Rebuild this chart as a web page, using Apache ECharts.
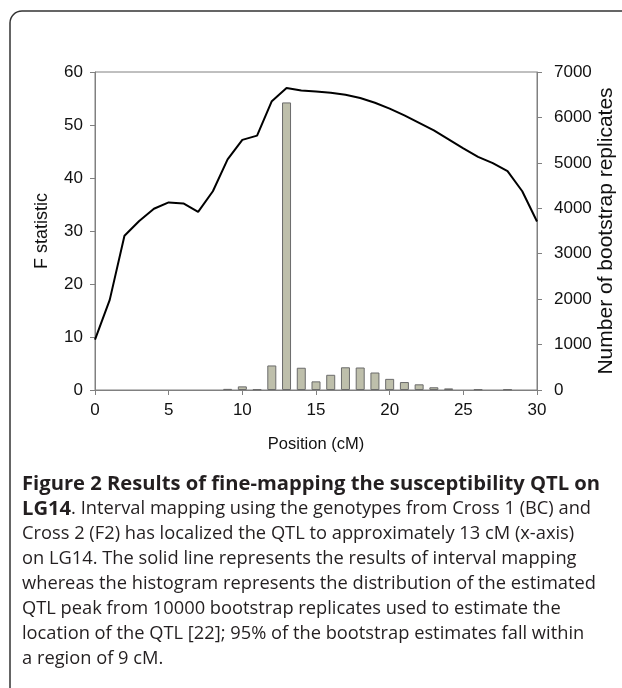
<!DOCTYPE html>
<html><head><meta charset="utf-8">
<script src="https://cdn.jsdelivr.net/npm/echarts@6/dist/echarts.min.js"></script>
<style>html,body{margin:0;padding:0;background:#fff}#c{width:622px;height:688px}</style>
</head><body><div id="c"></div>
<script>
// Position along LG14 (cM)
const positions = [0,1,2,3,4,5,6,7,8,9,10,11,12,13,14,15,16,17,18,19,20,21,22,23,24,25,26,27,28,29,30];
// F statistic from interval mapping (solid line, left axis)
const fStatistic = [9.5,17.0,29.1,31.9,34.2,35.4,35.2,33.6,37.5,43.5,47.2,48.0,54.5,57.0,56.5,56.3,56.1,55.7,55.1,54.2,53.1,51.8,50.4,49.0,47.3,45.6,44.0,42.8,41.3,37.5,31.8];
// Number of bootstrap replicates (histogram, right axis)
const bootstrapCounts = [0,0,0,0,0,0,0,0,0,25,80,15,540,6330,490,190,335,500,495,385,245,175,125,60,35,0,15,0,15,0,0];

const xTicks = [0,5,10,15,20,25,30];
const leftTicks = [0,10,20,30,40,50,60];
const rightTicks = [0,1000,2000,3000,4000,5000,6000,7000];

const xName = 'Position (cM)';
const leftName = 'F statistic';
const rightName = 'Number of bootstrap replicates';

const captionBoldTitle = 'Figure 2 Results of fine-mapping the susceptibility QTL on';
const captionBoldLead = 'LG14';
const captionLines = [
  '. Interval mapping using the genotypes from Cross 1 (BC) and',
  'Cross 2 (F2) has localized the QTL to approximately 13 cM (x-axis)',
  'on LG14. The solid line represents the results of interval mapping',
  'whereas the histogram represents the distribution of the estimated',
  'QTL peak from 10000 bootstrap replicates used to estimate the',
  'location of the QTL [22]; 95% of the bootstrap estimates fall within',
  'a region of 9 cM.'
];

const chart = echarts.init(document.getElementById('c'), null, {renderer:'canvas'});
const axisFont = '"Liberation Sans", Arial, sans-serif';
const capFont = '"Open Sans", "Noto Sans", sans-serif';
const capSize = 18.3, capBoldSize = 20.2;
const capTop = 484, capStep = 25, capLeft = 22;
const capColor = '#231f20';

const graphics = [
  {type:'rect', shape:{x:10,y:11,width:650,height:690,r:12}, style:{fill:'none',stroke:'#333',lineWidth:1.5}, silent:true, z:0},
  {type:'text', x:capLeft, y:capTop, style:{text:captionBoldTitle, font:'bold '+capBoldSize+'px '+capFont, fill:capColor, verticalAlign:'middle'}},
  {type:'text', x:capLeft, y:capTop+capStep, style:{
    text:'{b|'+captionBoldLead+'}{r|'+captionLines[0]+'}',
    verticalAlign:'middle',
    rich:{b:{font:'bold '+capBoldSize+'px '+capFont, fill:capColor}, r:{font:capSize+'px '+capFont, fill:capColor}}
  }}
];
for (let i=1;i<captionLines.length;i++){
  graphics.push({type:'text', x:capLeft, y:capTop+capStep*(i+1), style:{text:captionLines[i], font:capSize+'px '+capFont, fill:capColor, verticalAlign:'middle'}});
}

const axisLineStyle = {color:'#808080', width:1};
const plain = v => String(v);
chart.setOption({
  animation:false,
  backgroundColor:'#fff',
  grid:{left:95, right:85, top:72, bottom:298, show:true, borderColor:'#808080', borderWidth:1, containLabel:false, outerBoundsMode:'none'},
  xAxis:{type:'value', min:xTicks[0], max:xTicks[xTicks.length-1], interval:xTicks[1]-xTicks[0],
    name:xName, nameLocation:'middle', nameGap:46, nameMoveOverlap:false, nameTextStyle:{fontFamily:axisFont,fontSize:16.5,color:'#111'},
    axisLine:{show:true,lineStyle:axisLineStyle}, axisTick:{show:true,inside:false,length:5,lineStyle:axisLineStyle},
    axisLabel:{fontFamily:axisFont,fontSize:17,color:'#111',margin:12,formatter:plain}, splitLine:{show:false}},
  yAxis:[
    {type:'value', position:'left', min:leftTicks[0], max:leftTicks[leftTicks.length-1], interval:leftTicks[1]-leftTicks[0],
      name:leftName, nameLocation:'middle', nameGap:44, nameMoveOverlap:false, nameRotate:90, nameTextStyle:{fontFamily:axisFont,fontSize:18,color:'#111'},
      axisLine:{show:true,lineStyle:axisLineStyle}, axisTick:{show:true,inside:false,length:5,lineStyle:axisLineStyle},
      axisLabel:{fontFamily:axisFont,fontSize:17,color:'#111',margin:12,formatter:plain}, splitLine:{show:false}},
    {type:'value', position:'right', min:rightTicks[0], max:rightTicks[rightTicks.length-1], interval:rightTicks[1]-rightTicks[0],
      name:rightName, nameLocation:'middle', nameGap:59, nameMoveOverlap:false, nameRotate:90, nameTextStyle:{fontFamily:axisFont,fontSize:21,color:'#111'},
      axisLine:{show:true,lineStyle:axisLineStyle}, axisTick:{show:true,inside:false,length:5,lineStyle:axisLineStyle},
      axisLabel:{fontFamily:axisFont,fontSize:17,color:'#111',margin:17,formatter:plain}, splitLine:{show:false}}
  ],
  series:[
    {type:'bar', yAxisIndex:1, barWidth:9, z:2,
      data:positions.map((p,i)=>[p,bootstrapCounts[i]]).filter(d=>d[1]>0),
      itemStyle:{color:'#bebfab', borderColor:'#6b6b6b', borderWidth:1}},
    {type:'line', yAxisIndex:0, z:5, symbol:'none',
      data:positions.map((p,i)=>[p,fStatistic[i]]),
      lineStyle:{color:'#000', width:2}}
  ],
  graphic:graphics
});
</script></body></html>
